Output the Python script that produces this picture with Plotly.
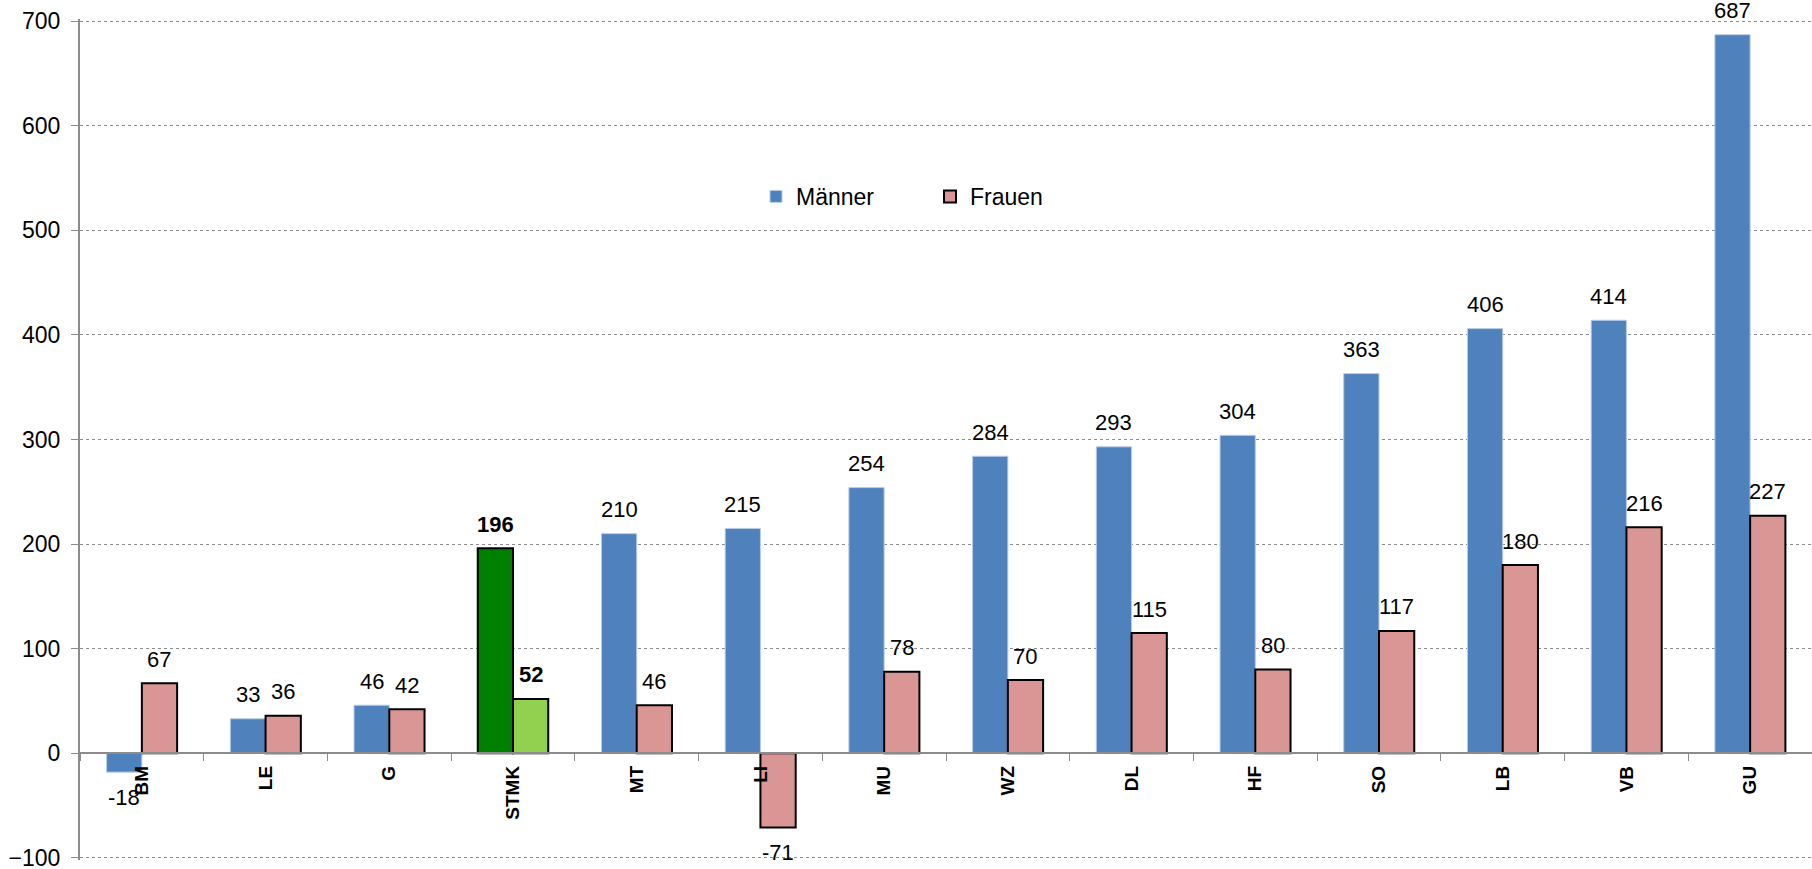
import plotly.graph_objects as go

# Veränderung nach Bezirk, Männer / Frauen
regions = ['BM', 'LE', 'G', 'STMK', 'MT', 'LI', 'MU', 'WZ', 'DL', 'HF', 'SO', 'LB', 'VB', 'GU']
maenner = [-18, 33, 46, 196, 210, 215, 254, 284, 293, 304, 363, 406, 414, 687]
frauen = [67, 36, 42, 52, 46, -71, 78, 70, 115, 80, 117, 180, 216, 227]
highlight = 'STMK'

W, H = 1812, 869
M_L, M_R, M_T, M_B = 80, 0, 21, 11
BARGAP = 0.43
FONT = 'Arial, Liberation Sans, sans-serif'
Y_MIN, Y_MAX, PAD = -100, 700, 2

BLUE, PINK = '#4F81BD', '#D99694'
DARK_GREEN, LIGHT_GREEN = '#008000', '#92D050'

m_colors = [DARK_GREEN if r == highlight else BLUE for r in regions]
m_lines = ['black' if r == highlight else '#B9CDE5' for r in regions]
m_widths = [2 if r == highlight else 1 for r in regions]
f_colors = [LIGHT_GREEN if r == highlight else PINK for r in regions]

fig = go.Figure()
fig.add_trace(go.Bar(x=regions, y=maenner, name='Männer',
                     marker=dict(color=m_colors, line=dict(color=m_lines, width=m_widths))))
fig.add_trace(go.Bar(x=regions, y=frauen, name='Frauen',
                     marker=dict(color=f_colors, line=dict(color='black', width=2))))

# data labels, placed like the Excel original
plot_w = W - M_L - M_R
cat_w = plot_w / len(regions)
half = cat_w * (1 - BARGAP) / 4
for series, sign in ((maenner, -1), (frauen, 1)):
    for r, v in zip(regions, series):
        txt = f'<b>{v}</b>' if r == highlight else str(v)
        fig.add_annotation(x=r, y=v, text=txt, showarrow=False,
                           xshift=sign * half, yshift=24 if v >= 0 else -25,
                           font=dict(size=22, color='black', family=FONT))

fig.update_layout(
    width=W, height=H,
    margin=dict(l=M_L, r=M_R, t=M_T - PAD, b=M_B - PAD),
    paper_bgcolor='white', plot_bgcolor='white',
    barmode='group', bargap=BARGAP, bargroupgap=0,
    font=dict(family=FONT, color='black'),
    legend=dict(orientation='h', x=(756 - 80) / plot_w, xanchor='left',
                y=0.789, yanchor='middle', font=dict(size=23),
                entrywidth=129, itemwidth=30, bgcolor='rgba(0,0,0,0)'),
)
fig.update_yaxes(range=[Y_MIN - PAD, Y_MAX + PAD], dtick=100, showgrid=True, gridcolor='#8C8C8C',
                 griddash='dot', gridwidth=1, zeroline=False, automargin=False,
                 showline=True, linecolor='#8C8C8C', linewidth=2,
                 ticks='outside', ticklen=7, tickcolor='#8C8C8C',
                 tickfont=dict(size=23), ticklabelstandoff=6, ticklabeloverflow='allow')
fig.update_xaxes(anchor='free', position=(0 - Y_MIN + PAD) / (Y_MAX - Y_MIN + 2 * PAD),
                 showline=True, linecolor='#8C8C8C',
                 linewidth=2, ticks='outside', tickson='boundaries', ticklen=7,
                 tickcolor='#8C8C8C', tickangle=-90, tickfont=dict(size=19),
                 ticklabelstandoff=4, tickprefix='<b>', ticksuffix='</b>',
                 showgrid=False, automargin=False)

# drop the default 8px page margin so the figure fills the window
fig.write_html('out.html', config={'displayModeBar': False},
               post_script="document.body.style.margin = '0';")
